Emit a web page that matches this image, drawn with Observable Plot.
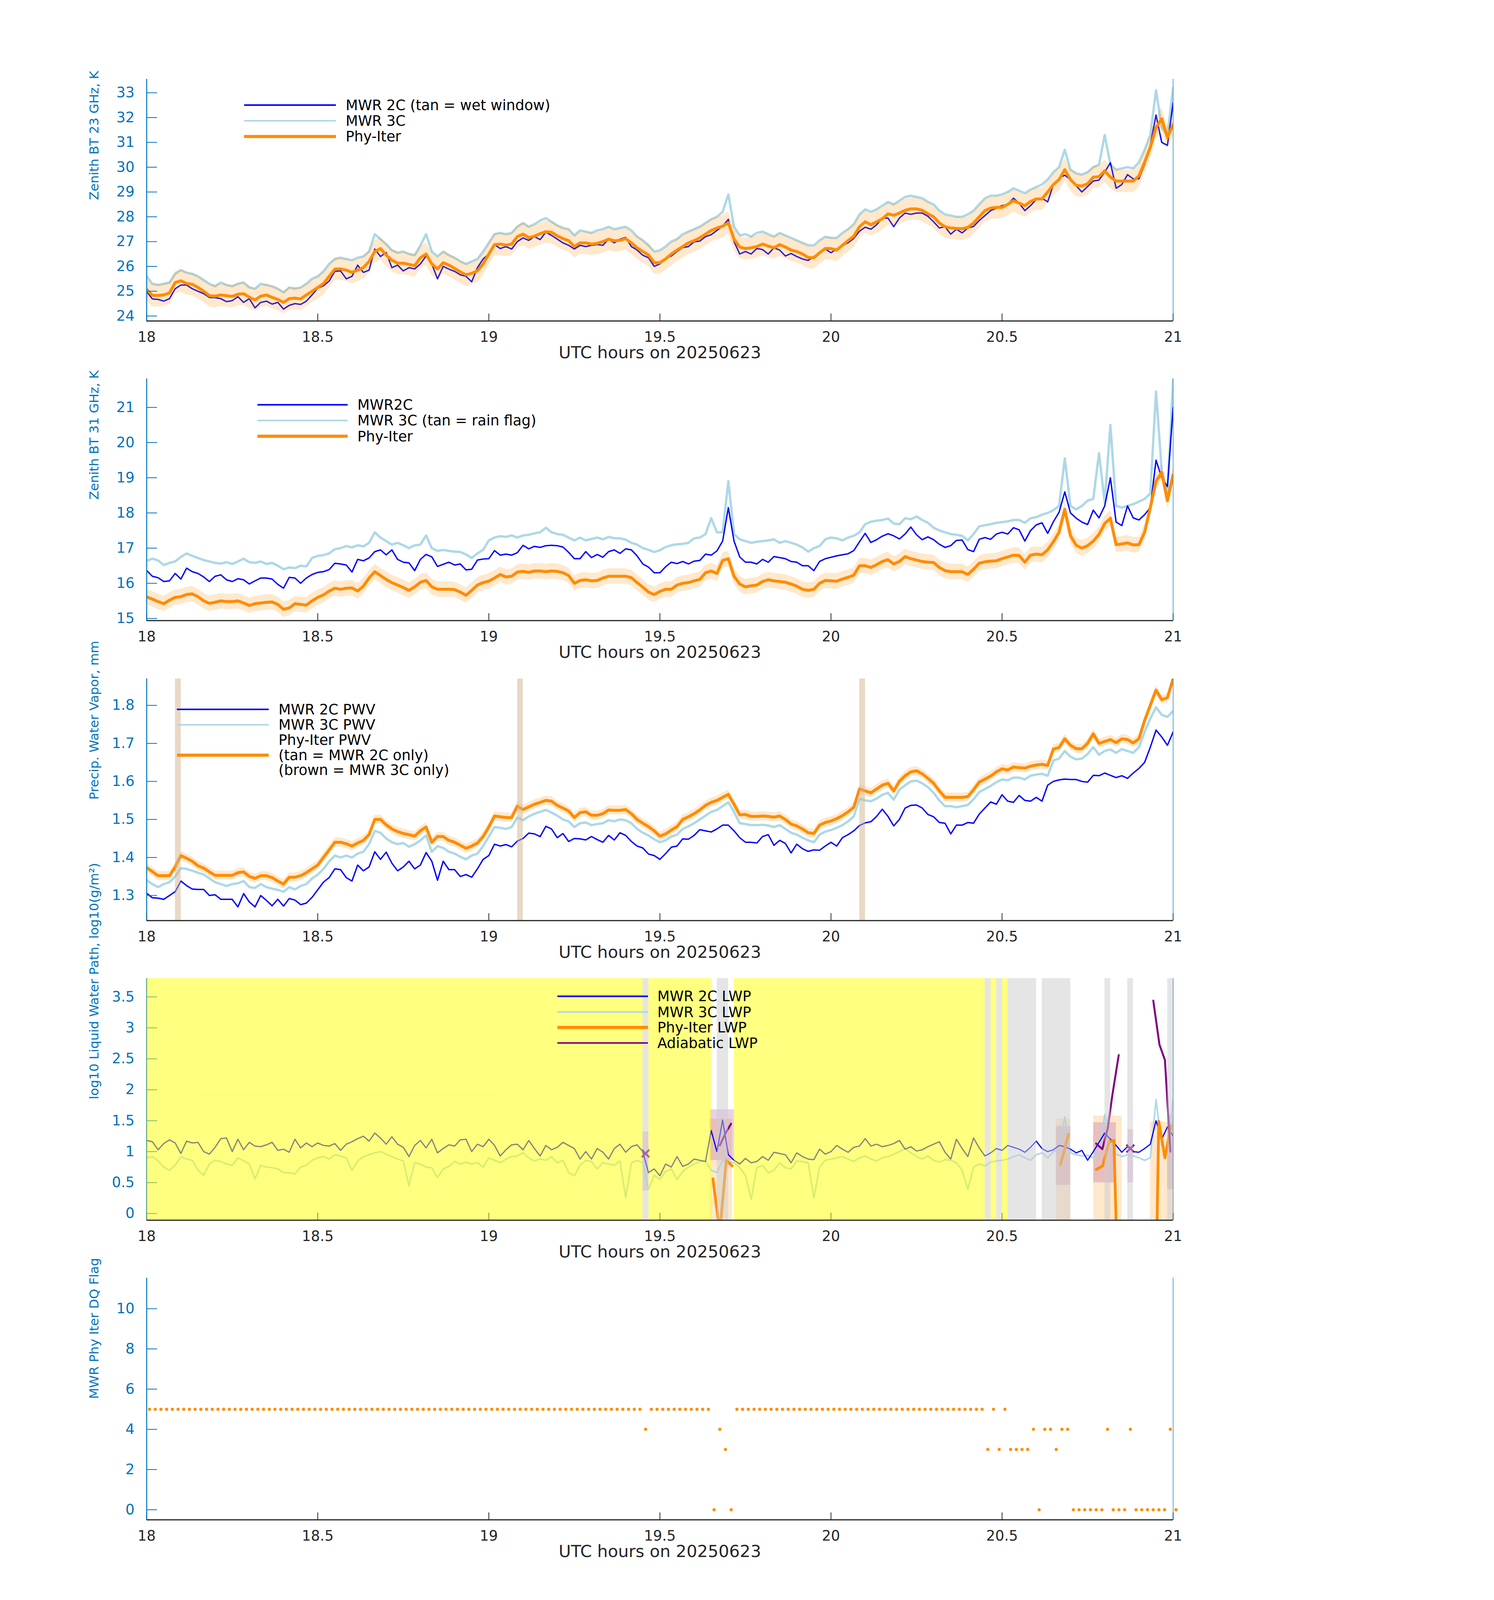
<!DOCTYPE html>
<html><head><meta charset="utf-8">
<script src="https://cdn.jsdelivr.net/npm/d3@7"></script>
<script src="https://cdn.jsdelivr.net/npm/@observablehq/plot@0.6"></script>
<style>
html,body{margin:0;padding:0;background:#fff;}
#page{position:relative;width:3825px;background:#fff;font-family:"DejaVu Sans",sans-serif;overflow:hidden;}
.panel{position:absolute;left:0;width:3825px;}
</style></head><body><div id="page"></div>
<script>
// ---------------- DATA (1-minute samples, 18:00 to 21:00 UTC) ----------------
const startHour = 18;
const xTicks = [18, 18.5, 19, 19.5, 20, 20.5, 21];

// Panel 1: Zenith BT 23 GHz (K)
const tb23Blue = [
24.98,24.69,24.67,24.6,24.7,25.1,25.25,25.25,25.1,25.0,
24.9,24.75,24.74,24.7,24.58,24.62,24.78,24.55,24.7,24.33,
24.55,24.6,24.48,24.55,24.28,24.43,24.5,24.47,24.6,24.85,
25.12,25.22,25.41,25.8,25.82,25.5,25.6,26.05,25.76,25.85,
26.7,26.4,26.56,25.95,26.05,25.82,25.95,25.9,26.1,26.42,
26.1,25.5,26.0,25.89,25.8,25.66,25.6,25.38,25.95,26.3,
26.5,26.88,26.72,26.8,26.7,27.0,27.15,27.05,27.2,27.08,
27.38,27.25,27.1,26.95,26.85,26.7,26.85,26.8,26.85,26.88,
26.85,27.1,26.95,27.1,27.17,26.8,26.66,26.45,26.35,26.0,
26.1,26.32,26.42,26.6,26.76,26.8,26.99,27.02,27.2,27.28,
27.45,27.62,27.9,27.0,26.5,26.6,26.5,26.72,26.68,26.5,
26.75,26.66,26.42,26.52,26.4,26.3,26.24,26.4,26.52,26.7,
26.55,26.7,26.85,26.95,27.13,27.42,27.58,27.5,27.68,27.95,
27.95,27.6,27.95,28.15,28.1,28.15,28.15,28.02,27.8,27.55,
27.6,27.3,27.5,27.35,27.55,27.61,27.85,28.05,28.25,28.35,
28.45,28.5,28.75,28.55,28.25,28.45,28.7,28.75,28.6,29.3,
29.55,29.68,29.5,29.25,29.0,29.22,29.44,29.48,29.8,30.18,
29.15,29.3,29.7,29.53,29.53,30.1,30.9,32.1,31.0,30.88,
32.6];
const tb23LightBlue = [
25.6,25.3,25.25,25.3,25.35,25.7,25.85,25.75,25.7,25.6,
25.45,25.3,25.2,25.35,25.25,25.2,25.3,25.35,25.15,25.1,
25.3,25.25,25.2,25.1,24.95,25.15,25.1,25.15,25.3,25.5,
25.6,25.8,26.1,26.3,26.35,26.3,26.25,26.35,26.4,26.6,
27.3,27.1,26.9,26.65,26.55,26.6,26.5,26.45,26.85,27.3,
26.6,26.4,26.6,26.45,26.35,26.2,26.1,26.2,26.3,26.6,
26.95,27.3,27.35,27.3,27.35,27.6,27.75,27.6,27.7,27.85,
27.95,27.8,27.65,27.55,27.5,27.25,27.45,27.4,27.35,27.45,
27.5,27.6,27.5,27.55,27.6,27.45,27.2,27.05,26.85,26.6,
26.65,26.8,27.0,27.1,27.3,27.4,27.5,27.6,27.75,27.9,
28.0,28.2,28.9,27.6,27.25,27.3,27.2,27.35,27.4,27.3,
27.2,27.35,27.25,27.15,27.05,26.95,26.85,26.85,27.05,27.2,
27.15,27.15,27.35,27.5,27.7,28.1,28.3,28.2,28.3,28.45,
28.6,28.5,28.65,28.8,28.85,28.8,28.75,28.6,28.5,28.25,
28.1,28.05,28.0,28.0,28.1,28.25,28.5,28.75,28.85,28.85,
28.9,29.0,29.15,29.05,28.95,29.1,29.2,29.3,29.5,29.8,
30.0,30.7,29.9,29.75,29.7,29.8,30.0,30.1,31.3,30.1,
29.9,29.95,30.0,29.95,30.2,30.7,31.3,33.1,31.6,31.3,
33.2];
const tb23PhyIter = [
25.07,24.83,24.83,24.85,24.93,25.35,25.42,25.31,25.28,25.15,
25.0,24.82,24.8,24.85,24.82,24.79,24.88,24.9,24.76,24.65,
24.8,24.85,24.75,24.67,24.55,24.7,24.72,24.69,24.85,25.0,
25.15,25.31,25.6,25.89,25.9,25.85,25.76,25.85,25.95,26.2,
26.6,26.72,26.46,26.25,26.13,26.13,26.08,26.03,26.35,26.5,
26.1,25.9,26.15,26.05,25.92,25.78,25.66,25.72,25.82,26.1,
26.5,26.88,26.9,26.86,26.9,27.2,27.3,27.16,27.22,27.32,
27.4,27.38,27.23,27.12,27.04,26.8,26.95,26.95,26.9,26.93,
27.0,27.1,27.03,27.05,27.12,26.95,26.75,26.6,26.46,26.15,
26.15,26.3,26.5,26.66,26.8,26.95,27.04,27.15,27.3,27.45,
27.55,27.62,27.76,27.1,26.78,26.72,26.75,26.8,26.9,26.82,
26.75,26.88,26.78,26.66,26.6,26.5,26.36,26.35,26.55,26.72,
26.72,26.66,26.85,27.04,27.22,27.6,27.8,27.68,27.8,27.92,
28.12,28.06,28.15,28.26,28.32,28.32,28.26,28.12,28.0,27.75,
27.6,27.55,27.53,27.52,27.57,27.75,28.0,28.25,28.35,28.38,
28.38,28.5,28.65,28.55,28.45,28.62,28.72,28.72,29.0,29.3,
29.5,29.9,29.5,29.27,29.24,29.33,29.6,29.62,29.85,29.6,
29.44,29.44,29.44,29.44,29.65,30.2,30.8,31.6,31.95,31.2,
31.72];
const tb23Unc = 0.45;
const tb23Ticks = [24, 25, 26, 27, 28, 29, 30, 31, 32, 33];

// Panel 2: Zenith BT 31 GHz (K)
const tb31Blue = [
16.36,16.2,16.16,16.05,16.07,16.28,16.12,16.43,16.33,16.28,
16.18,16.05,16.2,16.24,16.1,16.05,16.13,16.1,15.98,16.07,
16.15,16.15,16.12,15.97,15.86,16.17,16.15,16.0,16.15,16.25,
16.31,16.33,16.39,16.57,16.55,16.52,16.32,16.68,16.64,16.72,
16.9,16.95,16.81,16.95,16.68,16.6,16.58,16.36,16.68,16.82,
16.75,16.48,16.54,16.6,16.52,16.55,16.38,16.4,16.66,16.69,
16.7,16.93,16.8,16.83,16.8,16.87,17.08,16.98,17.05,17.02,
17.07,17.08,17.07,17.03,16.88,16.7,16.7,16.9,16.73,16.82,
16.74,16.9,16.95,16.85,16.98,16.95,16.78,16.55,16.46,16.3,
16.3,16.47,16.6,16.56,16.62,16.55,16.63,16.65,16.83,16.8,
16.92,17.2,18.15,17.2,16.75,16.6,16.6,16.55,16.68,16.6,
16.76,16.73,16.7,16.62,16.6,16.5,16.5,16.36,16.62,16.7,
16.74,16.78,16.81,16.84,16.93,17.18,17.42,17.16,17.24,17.34,
17.41,17.35,17.26,17.4,17.6,17.38,17.24,17.32,17.24,17.11,
17.02,17.07,17.22,17.23,16.96,16.9,17.25,17.3,17.25,17.4,
17.45,17.4,17.58,17.52,17.2,17.5,17.66,17.72,17.42,17.75,
18.02,18.6,18.0,17.85,17.74,17.67,18.08,17.86,18.2,19.0,
17.74,17.64,18.2,17.86,17.8,17.95,18.15,19.5,19.0,18.75,
21.0];
const tb31LightBlue = [
16.64,16.7,16.65,16.52,16.58,16.62,16.75,16.85,16.78,16.72,
16.66,16.62,16.58,16.56,16.6,16.55,16.62,16.7,16.6,16.58,
16.62,16.55,16.58,16.5,16.4,16.45,16.43,16.5,16.48,16.72,
16.78,16.8,16.85,16.97,17.0,17.06,17.02,17.08,17.05,17.15,
17.45,17.3,17.2,17.1,17.15,17.08,17.0,17.08,17.1,17.36,
17.0,16.92,16.95,16.92,16.9,16.89,16.82,16.72,16.85,16.95,
17.22,17.3,17.34,17.32,17.36,17.3,17.36,17.38,17.42,17.45,
17.58,17.45,17.4,17.38,17.3,17.22,17.3,17.22,17.26,17.3,
17.25,17.32,17.28,17.28,17.24,17.15,17.1,17.0,16.95,16.89,
16.94,17.03,17.08,17.11,17.12,17.15,17.28,17.3,17.4,17.85,
17.45,17.45,18.9,17.4,17.25,17.2,17.15,17.18,17.2,17.22,
17.25,17.15,17.2,17.15,17.1,17.02,16.9,17.0,17.06,17.25,
17.3,17.28,17.22,17.3,17.35,17.45,17.68,17.75,17.78,17.8,
17.84,17.7,17.68,17.85,17.82,17.9,17.8,17.72,17.58,17.5,
17.45,17.4,17.38,17.35,17.22,17.4,17.62,17.65,17.68,17.72,
17.74,17.76,17.8,17.8,17.72,17.85,17.88,17.95,18.0,18.08,
18.2,19.55,18.2,18.1,18.2,18.35,18.4,19.7,18.3,20.5,
18.2,18.15,18.2,18.25,18.32,18.4,18.55,21.45,19.2,18.6,
21.8];
const tb31PhyIter = [
15.61,15.55,15.48,15.42,15.52,15.6,15.62,15.68,15.7,15.62,
15.5,15.43,15.46,15.5,15.48,15.48,15.5,15.44,15.37,15.42,
15.44,15.46,15.47,15.4,15.26,15.3,15.42,15.4,15.38,15.5,
15.6,15.67,15.78,15.86,15.83,15.86,15.87,15.78,15.92,16.15,
16.33,16.22,16.11,16.02,15.95,15.88,15.8,15.9,16.03,16.08,
15.9,15.83,15.83,15.83,15.82,15.75,15.66,15.8,15.95,16.02,
16.06,16.15,16.25,16.18,16.2,16.32,16.34,16.31,16.35,16.35,
16.33,16.35,16.34,16.3,16.22,16.0,16.08,16.1,16.07,16.08,
16.15,16.2,16.2,16.2,16.2,16.16,16.02,15.89,15.75,15.68,
15.77,15.83,15.83,15.95,16.0,16.02,16.07,16.11,16.3,16.35,
16.28,16.65,16.7,16.2,15.98,15.9,15.93,15.95,16.05,16.1,
16.07,16.05,16.03,15.98,15.92,15.83,15.8,15.83,16.0,16.08,
16.07,16.06,16.12,16.17,16.23,16.5,16.5,16.45,16.53,16.62,
16.67,16.55,16.62,16.76,16.7,16.66,16.62,16.6,16.59,16.45,
16.36,16.33,16.33,16.33,16.25,16.4,16.57,16.61,16.63,16.64,
16.7,16.75,16.8,16.79,16.6,16.8,16.83,16.81,16.95,17.18,
17.45,18.1,17.35,17.08,17.0,17.07,17.2,17.39,17.7,17.85,
17.1,17.12,17.15,17.09,17.1,17.45,18.15,18.9,19.15,18.35,
19.08];
const tb31Unc = 0.22;
const tb31Ticks = [15, 16, 17, 18, 19, 20, 21];

// Panel 3: Precipitable water vapor (mm)
const pwvBlue = [
1.306,1.294,1.293,1.29,1.3,1.31,1.338,1.326,1.317,1.316,
1.316,1.3,1.302,1.29,1.29,1.29,1.27,1.305,1.283,1.27,
1.3,1.287,1.273,1.29,1.272,1.292,1.288,1.276,1.28,1.295,
1.315,1.335,1.347,1.37,1.368,1.347,1.338,1.38,1.365,1.375,
1.415,1.395,1.414,1.385,1.365,1.375,1.39,1.37,1.38,1.413,
1.39,1.34,1.39,1.368,1.368,1.35,1.355,1.348,1.37,1.395,
1.405,1.435,1.43,1.434,1.428,1.443,1.45,1.464,1.462,1.455,
1.482,1.475,1.452,1.463,1.442,1.45,1.449,1.446,1.455,1.447,
1.44,1.458,1.446,1.465,1.458,1.442,1.43,1.425,1.409,1.405,
1.395,1.41,1.427,1.43,1.449,1.448,1.458,1.473,1.47,1.467,
1.475,1.485,1.485,1.47,1.452,1.44,1.44,1.438,1.455,1.46,
1.432,1.445,1.437,1.412,1.435,1.423,1.416,1.42,1.419,1.43,
1.44,1.43,1.452,1.46,1.47,1.484,1.491,1.494,1.508,1.527,
1.508,1.483,1.5,1.53,1.537,1.538,1.53,1.513,1.507,1.492,
1.49,1.462,1.485,1.485,1.492,1.49,1.514,1.53,1.546,1.54,
1.565,1.548,1.545,1.563,1.55,1.548,1.558,1.548,1.59,1.6,
1.604,1.606,1.605,1.605,1.6,1.598,1.616,1.615,1.622,1.616,
1.61,1.615,1.608,1.622,1.634,1.65,1.69,1.735,1.717,1.695,
1.73];
const pwvLightBlue = [
1.34,1.33,1.322,1.33,1.335,1.35,1.372,1.37,1.365,1.36,
1.355,1.345,1.335,1.33,1.325,1.33,1.332,1.338,1.322,1.32,
1.33,1.322,1.318,1.315,1.31,1.322,1.316,1.325,1.33,1.345,
1.355,1.37,1.39,1.405,1.4,1.405,1.4,1.41,1.415,1.435,
1.47,1.465,1.45,1.44,1.435,1.438,1.428,1.435,1.445,1.458,
1.415,1.43,1.425,1.415,1.41,1.402,1.395,1.405,1.41,1.43,
1.455,1.48,1.478,1.475,1.48,1.505,1.498,1.508,1.515,1.52,
1.525,1.518,1.51,1.5,1.495,1.48,1.49,1.492,1.485,1.488,
1.49,1.498,1.495,1.5,1.498,1.49,1.475,1.465,1.458,1.448,
1.44,1.445,1.455,1.46,1.475,1.482,1.49,1.5,1.51,1.52,
1.525,1.535,1.545,1.52,1.49,1.488,1.485,1.485,1.486,1.484,
1.48,1.485,1.475,1.465,1.46,1.452,1.445,1.44,1.46,1.468,
1.472,1.478,1.485,1.495,1.508,1.555,1.55,1.548,1.555,1.565,
1.57,1.552,1.578,1.59,1.6,1.602,1.595,1.585,1.57,1.55,
1.535,1.535,1.532,1.535,1.538,1.553,1.572,1.58,1.588,1.598,
1.605,1.603,1.61,1.61,1.605,1.615,1.618,1.62,1.615,1.655,
1.66,1.68,1.665,1.658,1.66,1.672,1.69,1.67,1.68,1.684,
1.675,1.685,1.68,1.675,1.69,1.73,1.765,1.795,1.775,1.77,
1.785];
const pwvPhyIter = [
1.373,1.363,1.352,1.352,1.352,1.375,1.405,1.398,1.39,1.378,
1.372,1.362,1.353,1.353,1.353,1.353,1.36,1.362,1.35,1.345,
1.352,1.352,1.347,1.338,1.33,1.348,1.348,1.352,1.36,1.37,
1.38,1.4,1.42,1.44,1.44,1.436,1.43,1.438,1.445,1.46,
1.5,1.5,1.486,1.475,1.468,1.463,1.46,1.456,1.47,1.48,
1.44,1.455,1.455,1.445,1.44,1.432,1.424,1.43,1.438,1.455,
1.48,1.509,1.507,1.505,1.505,1.535,1.526,1.533,1.54,1.545,
1.55,1.548,1.537,1.53,1.522,1.505,1.518,1.52,1.511,1.511,
1.515,1.525,1.524,1.524,1.526,1.515,1.5,1.49,1.481,1.47,
1.456,1.462,1.472,1.481,1.5,1.507,1.515,1.525,1.537,1.545,
1.55,1.558,1.566,1.54,1.512,1.513,1.508,1.508,1.509,1.508,
1.506,1.509,1.5,1.488,1.483,1.475,1.465,1.463,1.485,1.492,
1.496,1.502,1.51,1.52,1.532,1.58,1.575,1.57,1.58,1.59,
1.595,1.575,1.6,1.615,1.625,1.628,1.62,1.608,1.595,1.575,
1.558,1.558,1.558,1.558,1.56,1.578,1.598,1.606,1.614,1.625,
1.633,1.63,1.638,1.636,1.635,1.64,1.643,1.645,1.642,1.685,
1.689,1.712,1.695,1.686,1.686,1.7,1.725,1.7,1.705,1.71,
1.702,1.712,1.71,1.701,1.712,1.76,1.8,1.84,1.815,1.82,
1.87];
const pwvUnc = 0.012;
const pwvTicks = [1.3, 1.4, 1.5, 1.6, 1.7, 1.8];
const pwvSingleInstrumentMinutes = [5, 65, 125]; // tan = MWR 2C only

// Panel 4: log10 liquid water path
const lwpBlue = [
1.18,1.16,1.03,1.13,1.19,1.14,0.97,1.17,1.14,1.15,
1.0,0.96,1.07,1.21,1.22,1.0,1.2,1.03,1.15,1.09,
1.08,1.11,1.15,1.02,1.04,0.99,1.2,1.06,1.14,1.08,
1.14,1.1,1.09,1.13,1.02,1.12,1.16,1.21,1.25,1.17,
1.3,1.22,1.12,1.24,1.12,1.07,0.92,1.1,1.18,1.06,
1.2,0.98,1.05,1.11,1.09,1.19,1.2,1.0,1.12,1.08,
1.2,1.1,0.93,1.03,1.11,1.12,1.03,1.18,1.05,0.93,
1.1,1.03,1.07,1.15,1.1,1.05,0.88,1.0,0.88,1.05,
0.99,0.88,1.05,1.12,0.99,1.08,1.11,1.0,0.66,0.72,
0.61,0.8,0.75,0.92,0.76,0.8,0.88,0.86,0.84,1.34,
1.0,1.51,0.95,0.86,0.8,0.89,0.82,0.84,0.92,0.86,
0.99,0.97,0.95,0.82,0.98,0.92,0.88,0.87,1.04,0.96,
1.0,1.1,1.04,0.99,1.07,1.09,1.21,1.09,1.12,1.08,
1.1,1.13,1.18,1.04,1.08,1.01,1.03,1.08,1.12,1.16,
0.99,0.88,1.2,1.05,0.92,1.22,1.06,0.93,0.98,1.05,
1.02,1.1,1.07,1.04,0.99,1.07,1.17,1.05,1.0,1.03,
1.1,1.08,1.04,0.98,1.02,0.86,1.0,1.15,1.3,1.2,
1.1,0.99,1.08,1.0,0.99,1.05,1.12,1.5,1.2,1.4,
1.25];
const lwpLightBlue = [
0.9,0.92,0.85,0.75,0.7,0.78,0.92,0.88,0.86,0.7,
0.62,0.8,0.86,0.84,0.8,0.78,0.9,0.85,0.8,0.56,
0.78,0.75,0.74,0.72,0.66,0.66,0.64,0.75,0.78,0.86,
0.9,0.92,0.88,0.95,0.93,0.9,0.7,0.85,0.92,0.95,
0.98,1.0,0.96,0.92,0.88,0.85,0.45,0.82,0.8,0.75,
0.74,0.58,0.72,0.76,0.84,0.8,0.83,0.8,0.82,0.75,
0.9,0.86,0.82,0.88,0.92,0.93,0.98,0.9,0.85,0.88,
0.86,0.92,0.82,0.86,0.66,0.61,0.78,0.86,0.84,0.72,
0.82,0.8,0.78,0.85,0.26,0.82,0.86,0.82,0.39,0.62,
0.55,0.68,0.72,0.55,0.68,0.75,0.8,0.84,0.85,0.7,
0.66,0.86,0.84,0.82,0.74,0.62,0.23,0.74,0.78,0.66,
0.7,0.82,0.74,0.72,0.85,0.84,0.82,0.25,0.75,0.86,
0.88,0.9,0.92,0.88,0.84,0.9,0.93,0.88,0.85,0.9,
0.92,0.96,1.0,1.05,0.98,0.92,0.88,0.93,0.86,0.83,
0.87,0.86,0.82,0.7,0.39,0.75,0.8,0.77,0.83,0.85,
0.86,0.88,0.92,0.95,0.9,0.86,0.95,0.98,0.9,1.0,
1.05,1.56,0.98,0.95,0.93,0.94,0.9,1.0,1.6,1.1,
0.96,0.92,0.95,0.93,0.9,0.86,0.9,1.84,1.1,1.05,
1.84];
// Phy-Iter LWP only retrieved in short spells (null = gap)
const phyLwpTime  = [19.655,19.675,19.694,19.711,null,20.671,20.694,null,20.775,20.794,20.813,20.827,20.835,null,20.952,20.958,20.976,20.994];
const phyLwpValue = [0.56,-0.3,0.86,0.77,null,0.79,1.28,null,0.71,0.77,1.16,1.18,-0.5,null,-0.5,1.49,0.9,1.42];
const phyLwpBandStart = [19.646, 20.658, 20.767, 20.933];
const phyLwpBandEnd   = [19.711, 20.700, 20.850, 21.000];
const phyLwpBandLow   = [-0.3, -0.3, -0.3, -0.3];
const phyLwpBandHigh  = [1.53, 1.53, 1.58, 1.48];
const adiaLwpTime  = [19.675,19.692,19.708,null,20.775,20.793,20.809,20.822,20.841,null,20.942,20.96,20.976,20.992];
const adiaLwpValue = [1.1,1.3,1.45,null,1.13,1.04,1.38,1.9,2.56,null,3.44,2.73,2.48,1.0];
const adiaBandStart = [19.450, 19.646, 20.658, 20.767, 20.867, 20.983];
const adiaBandEnd   = [19.467, 19.717, 20.700, 20.833, 20.883, 21.000];
const adiaBandLow   = [0.37, 0.86, 0.46, 0.5, 0.5, 0.39];
const adiaBandHigh  = [1.32, 1.68, 1.41, 1.47, 1.36, 1.59];
const adiaMarkTime  = [19.458, 20.875];
const adiaMarkValue = [0.97, 1.05];
const lwpTicks = [0, 0.5, 1, 1.5, 2, 2.5, 3, 3.5];

// Panel 5: MWR Phy Iter DQ flag (per minute)
const dqFlag = [
5,5,5,5,5,5,5,5,5,5, 5,5,5,5,5,5,5,5,5,5, 5,5,5,5,5,5,5,5,5,5,
5,5,5,5,5,5,5,5,5,5, 5,5,5,5,5,5,5,5,5,5, 5,5,5,5,5,5,5,5,5,5,
5,5,5,5,5,5,5,5,5,5, 5,5,5,5,5,5,5,5,5,5, 5,5,5,5,5,5,5,4,5,5,
5,5,5,5,5,5,5,5,5,0, 4,3,0,5,5,5,5,5,5,5, 5,5,5,5,5,5,5,5,5,5,
5,5,5,5,5,5,5,5,5,5, 5,5,5,5,5,5,5,5,5,5, 5,5,5,5,5,5,5,3,5,3,
5,3,3,3,3,4,0,4,4,3, 4,4,0,0,0,0,0,0,4,0, 0,0,4,0,0,0,0,0,0,4,
0];
const dqTicks = [0, 2, 4, 6, 8, 10];

// ---------------- COLOURS ----------------
const C_BLUE = "#0000FF", C_LBLUE = "#ADD8E6", C_ORANGE = "#FF8C00", C_PURPLE = "#800080";
const C_AXIS = "#0072BD", C_TEXT = "#262626";

// ---------------- LAYOUT (designed for 3825x6000, fitted to the real window height) ----------------
const VIEW_H = (window.innerHeight && window.innerHeight > 200) ? window.innerHeight : 6000;
const sy = Math.min(1, VIEW_H / 6000);   // vertical fit
const ft = (1 + Math.sqrt(sy)) / 2;      // factor for horizontal texts
const page = document.getElementById("page");
page.style.height = (6000 * sy) + "px";

// ---------------- BUILD ----------------
const hours = tb23Blue.map((_, i) => startHour + i / 60);

function seriesRows(blue, lblue, phy, unc) {
  return hours.map((t, i) => ({t, blue: blue[i], lblue: lblue[i], phy: phy[i], lo: phy[i] - unc, hi: phy[i] + unc}));
}

function runs(flags, test) {
  const out = [];
  let s = null;
  for (let i = 0; i <= flags.length; i++) {
    const ok = i < flags.length && startHour + i / 60 < 21 && test(flags[i]);
    if (ok && s === null) s = i;
    if (!ok && s !== null) { out.push({x1: startHour + s / 60, x2: startHour + i / 60}); s = null; }
  }
  return out;
}

function panel(k, {yDomain, yTicks, yLabel, data = [], overlay = []}) {
  const axes = [
    Plot.axisX({ticks: xTicks, tickSize: -27 * sy, tickPadding: 67 * sy, tickFormat: d => String(d), color: C_TEXT, strokeWidth: 2, fontSize: 40 * ft, label: null}),
    Plot.axisY({ticks: yTicks, tickSize: -27, tickPadding: 58, tickFormat: d => String(d), color: C_AXIS, strokeWidth: 2, fontSize: 40 * ft, label: null}),
    Plot.ruleX([18], {stroke: C_AXIS, strokeWidth: 2.5}),
    Plot.ruleX([21], {stroke: C_AXIS, strokeWidth: 1.5, strokeOpacity: 0.85})
  ];
  const p = Plot.plot({
    width: 3825, height: 1124 * sy,
    marginTop: 66 * sy, marginBottom: 151 * sy, marginLeft: 375, marginRight: 822,
    style: {background: "transparent", overflow: "visible", fontFamily: "'DejaVu Sans', sans-serif", fontSize: (40 * ft) + "px"},
    x: {domain: [18, 21]},
    y: {domain: yDomain},
    marks: [
      ...data,
      ...axes,
      ...overlay,
      Plot.ruleY([yDomain[0]], {stroke: C_TEXT, strokeWidth: 3}),
      Plot.text([yLabel], {frameAnchor: "left", dx: -134, rotate: -90, fontSize: 48 * sy, fill: C_AXIS}),
      Plot.text(["UTC hours on 20250623"], {frameAnchor: "bottom", dy: 139 * sy, fontSize: 47 * ft, fill: C_TEXT})
    ]
  });
  const div = document.createElement("div");
  div.className = "panel";
  div.style.top = ((230 + 1124 * k) * sy) + "px";
  div.appendChild(p);
  page.appendChild(div);
}

function btMarks(rows) {
  return [
    Plot.line(rows, {x: "t", y: "lblue", stroke: C_LBLUE, strokeWidth: 6, clip: true}),
    Plot.line(rows, {x: "t", y: "blue", stroke: C_BLUE, strokeWidth: 3.5, clip: true}),
    Plot.areaY(rows, {x: "t", y1: "lo", y2: "hi", fill: C_ORANGE, fillOpacity: 0.2, clip: true}),
    Plot.line(rows, {x: "t", y: "phy", stroke: C_ORANGE, strokeWidth: 7.5, clip: true})
  ];
}

// Panel 1
panel(0, {
  yDomain: [23.8, 33.55], yTicks: tb23Ticks, yLabel: "Zenith BT 23 GHz, K",
  data: btMarks(seriesRows(tb23Blue, tb23LightBlue, tb23PhyIter, tb23Unc))
});
// Panel 2
panel(1, {
  yDomain: [14.94, 21.815], yTicks: tb31Ticks, yLabel: "Zenith BT 31 GHz, K",
  data: btMarks(seriesRows(tb31Blue, tb31LightBlue, tb31PhyIter, tb31Unc))
});
// Panel 3
const tanRows = pwvSingleInstrumentMinutes.map(m => ({x1: startHour + m / 60, x2: startHour + (m + 1) / 60}));
panel(2, {
  yDomain: [1.234, 1.87], yTicks: pwvTicks, yLabel: "Precip. Water Vapor, mm",
  data: btMarks(seriesRows(pwvBlue, pwvLightBlue, pwvPhyIter, pwvUnc)),
  overlay: [Plot.rect(tanRows, {x1: "x1", x2: "x2", fill: "#D2B48C", fillOpacity: 0.5})]
});
// Panel 4
const lwpRows = hours.map((t, i) => ({t, blue: lwpBlue[i], lblue: lwpLightBlue[i]}));
const phyRows = phyLwpTime.map((t, i) => ({t, v: phyLwpValue[i]}));
const adiaRows = adiaLwpTime.map((t, i) => ({t, v: adiaLwpValue[i]}));
const phyBandRows = phyLwpBandStart.map((s, i) => ({x1: s, x2: phyLwpBandEnd[i], y1: phyLwpBandLow[i], y2: phyLwpBandHigh[i]}));
const adiaBandRows = adiaBandStart.map((s, i) => ({x1: s, x2: adiaBandEnd[i], y1: adiaBandLow[i], y2: adiaBandHigh[i]}));
const adiaMarkRows = adiaMarkTime.map((t, i) => ({t, v: adiaMarkValue[i]}));
panel(3, {
  yDomain: [-0.108, 3.8], yTicks: lwpTicks, yLabel: "log10 Liquid Water Path, log10(g/m²)",
  data: [
    Plot.rect(phyBandRows, {x1: "x1", x2: "x2", y1: "y1", y2: "y2", fill: C_ORANGE, fillOpacity: 0.2, clip: true}),
    Plot.rect(adiaBandRows, {x1: "x1", x2: "x2", y1: "y1", y2: "y2", fill: C_PURPLE, fillOpacity: 0.18, clip: true}),
    Plot.line(lwpRows, {x: "t", y: "lblue", stroke: C_LBLUE, strokeWidth: 4, clip: true}),
    Plot.line(lwpRows, {x: "t", y: "blue", stroke: C_BLUE, strokeWidth: 3, clip: true}),
    Plot.line(phyRows, {x: "t", y: "v", stroke: C_ORANGE, strokeWidth: 7, clip: true}),
    Plot.line(adiaRows, {x: "t", y: "v", stroke: C_PURPLE, strokeWidth: 5, clip: true}),
    Plot.dot(adiaMarkRows, {x: "t", y: "v", symbol: "times", r: 9, stroke: C_PURPLE, strokeWidth: 5})
  ],
  overlay: [
    Plot.rect(runs(dqFlag, f => f === 5), {x1: "x1", x2: "x2", fill: "#FFFF00", fillOpacity: 0.5}),
    Plot.rect(runs(dqFlag, f => f === 3 || f === 4), {x1: "x1", x2: "x2", fill: "#CCCCCC", fillOpacity: 0.5})
  ]
});
// Panel 5
const dqRows = dqFlag.map((f, i) => ({t: startHour + (i + 0.5) / 60, f}));
panel(4, {
  yDomain: [-0.5, 11.53], yTicks: dqTicks, yLabel: "MWR Phy Iter DQ Flag",
  data: [Plot.dot(dqRows, {x: "t", y: "f", r: 4, fill: C_ORANGE, stroke: "none"})]
});

// ---------------- LEGENDS (overlay, positions in the 3825x6000 design) ----------------
const legends = [
  {x1: 625, x2: 860, tx: 885, rows: [
    {y: 394, color: C_BLUE, w: 4, text: "MWR 2C (tan = wet window)"},
    {y: 453, color: C_LBLUE, w: 4, text: "MWR 3C"},
    {y: 512, color: C_ORANGE, w: 8, text: "Phy-Iter"}]},
  {x1: 659, x2: 890, tx: 915, rows: [
    {y: 1518, color: C_BLUE, w: 4, text: "MWR2C"},
    {y: 1577, color: C_LBLUE, w: 4, text: "MWR 3C (tan = rain flag)"},
    {y: 1636, color: C_ORANGE, w: 8, text: "Phy-Iter"}]},
  {x1: 453, x2: 688, tx: 713, rows: [
    {y: 2660, color: C_BLUE, w: 4, text: "MWR 2C PWV"},
    {y: 2718, color: C_LBLUE, w: 4, text: "MWR 3C PWV"},
    {y: 2775, color: null, w: 0, text: "Phy-Iter PWV"},
    {y: 2832, color: C_ORANGE, w: 8, text: "(tan = MWR 2C only)"},
    {y: 2888, color: null, w: 0, text: "(brown = MWR 3C only)"}]},
  {x1: 1427, x2: 1659, tx: 1683, rows: [
    {y: 3736, color: C_BLUE, w: 4, text: "MWR 2C LWP"},
    {y: 3795, color: C_LBLUE, w: 4, text: "MWR 3C LWP"},
    {y: 3853, color: C_ORANGE, w: 8, text: "Phy-Iter LWP"},
    {y: 3911, color: C_PURPLE, w: 4, text: "Adiabatic LWP"}]}
];
const ov = d3.select(page).append("svg")
  .attr("width", 3825).attr("height", 6000 * sy)
  .style("position", "absolute").style("left", 0).style("top", 0).style("pointer-events", "none");
legends.forEach(L => {
  L.rows.forEach(r => {
    const y = r.y * sy;
    if (r.color) ov.append("line").attr("x1", L.x1).attr("x2", L.x2).attr("y1", y).attr("y2", y)
      .attr("stroke", r.color).attr("stroke-width", r.w);
    ov.append("text").attr("x", L.tx).attr("y", y).attr("dy", "0.35em")
      .attr("font-family", "DejaVu Sans").attr("font-size", 40 * ft).attr("fill", "#000").text(r.text);
  });
});
</script></body></html>
